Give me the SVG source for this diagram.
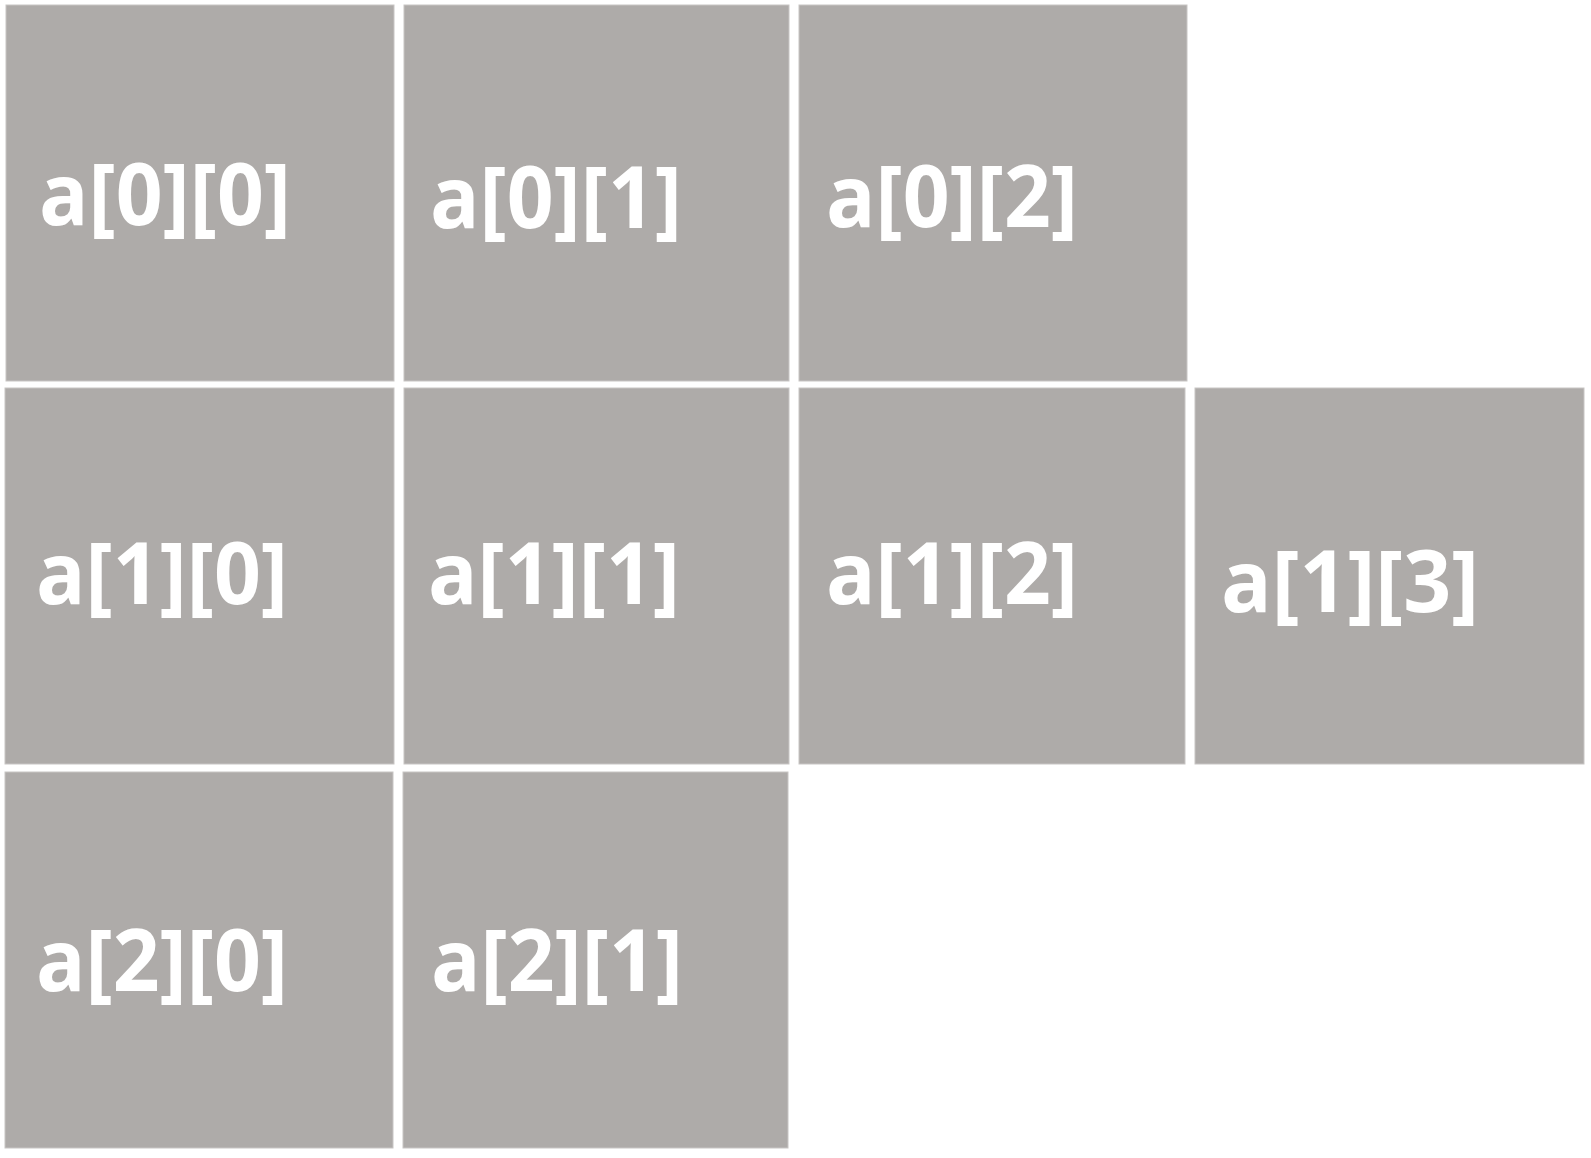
<svg xmlns="http://www.w3.org/2000/svg" width="1591" height="1158" viewBox="0 0 1591 1158">
<style>
.cell{fill:#aeaba9;stroke:#c8c5c4;stroke-width:1}
.lbl{font-family:"Open Sans","Liberation Sans",sans-serif;font-weight:700;font-size:86px;fill:#ffffff}
</style>
<rect width="1591" height="1158" fill="#ffffff"/>
<g id="a00"><rect class="cell" x="6" y="5" width="388" height="376"/><text class="lbl" x="39" y="225" textLength="252" lengthAdjust="spacingAndGlyphs">a[0][0]</text></g>
<g id="a01"><rect class="cell" x="404" y="5" width="385" height="376"/><text class="lbl" x="430" y="228" textLength="252" lengthAdjust="spacingAndGlyphs">a[0][1]</text></g>
<g id="a02"><rect class="cell" x="799" y="5" width="388" height="376"/><text class="lbl" x="826" y="227" textLength="252" lengthAdjust="spacingAndGlyphs">a[0][2]</text></g>
<g id="a10"><rect class="cell" x="5" y="388" width="389" height="376"/><text class="lbl" x="36" y="604" textLength="252" lengthAdjust="spacingAndGlyphs">a[1][0]</text></g>
<g id="a11"><rect class="cell" x="404" y="388" width="385" height="376"/><text class="lbl" x="428" y="604" textLength="252" lengthAdjust="spacingAndGlyphs">a[1][1]</text></g>
<g id="a12"><rect class="cell" x="799" y="388" width="386" height="376"/><text class="lbl" x="826" y="604" textLength="252" lengthAdjust="spacingAndGlyphs">a[1][2]</text></g>
<g id="a13"><rect class="cell" x="1195" y="388" width="389" height="376"/><text class="lbl" x="1221" y="612" textLength="258" lengthAdjust="spacingAndGlyphs">a[1][3]</text></g>
<g id="a20"><rect class="cell" x="5" y="772" width="388" height="376"/><text class="lbl" x="36" y="991" textLength="252" lengthAdjust="spacingAndGlyphs">a[2][0]</text></g>
<g id="a21"><rect class="cell" x="403" y="772" width="385" height="376"/><text class="lbl" x="431" y="991" textLength="252" lengthAdjust="spacingAndGlyphs">a[2][1]</text></g>
<g id="connectors"></g>
</svg>
